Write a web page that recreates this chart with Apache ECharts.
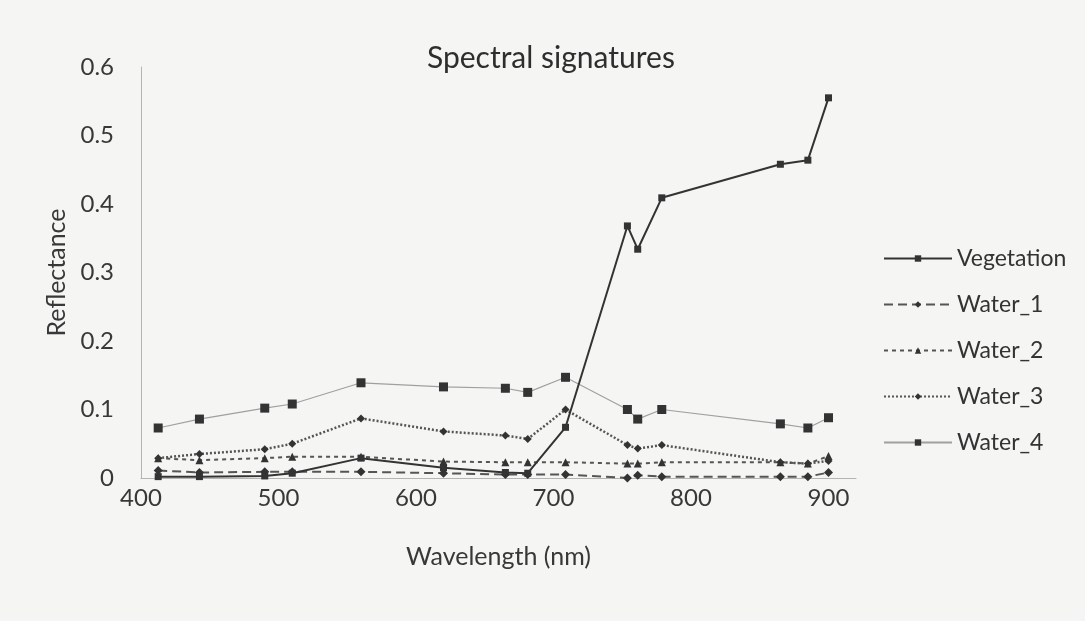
<!DOCTYPE html>
<html>
<head>
<meta charset="utf-8">
<title>Spectral signatures</title>
<script src="https://cdn.jsdelivr.net/npm/echarts@6/dist/echarts.min.js"></script>
<style>
  html, body { margin: 0; padding: 0; background: #f5f5f3; }
  #chart { width: 1085px; height: 621px; }
</style>
</head>
<body>
<div id="chart"></div>
<script>
// Band centres (nm)
const wavelengths = [412.5, 442.5, 490, 510, 560, 620, 665, 681.25, 708.75, 753.75, 761.25, 778.75, 865, 885, 900];

// Reflectance per band
const vegetation = [0.002, 0.002, 0.003, 0.007, 0.029, 0.015, 0.008, 0.007, 0.074, 0.368, 0.334, 0.409, 0.458, 0.464, 0.555];
const water1     = [0.011, 0.008, 0.009, 0.009, 0.009, 0.007, 0.005, 0.005, 0.005, 0.000, 0.004, 0.002, 0.002, 0.002, 0.008];
const water2     = [0.029, 0.026, 0.029, 0.031, 0.031, 0.024, 0.023, 0.023, 0.023, 0.021, 0.021, 0.023, 0.023, 0.021, 0.032];
const water3     = [0.029, 0.035, 0.042, 0.050, 0.087, 0.068, 0.062, 0.057, 0.100, 0.048, 0.043, 0.048, 0.023, 0.021, 0.025];
const water4     = [0.073, 0.086, 0.102, 0.108, 0.139, 0.133, 0.131, 0.125, 0.147, 0.100, 0.086, 0.100, 0.079, 0.073, 0.088];

const xTicks = { min: 400, max: 920, step: 100 };
const yTicks = { min: 0, max: 0.6, step: 0.1 };

const pairs = vals => wavelengths.map((w, i) => [w, vals[i]]);
const ink = '#333333';

function line(name, vals, opts) {
  return {
    name: name,
    type: 'line',
    data: pairs(vals),
    symbol: opts.symbol,
    symbolSize: opts.size,
    itemStyle: { color: opts.markerColor || ink },
    lineStyle: { color: opts.color, width: opts.width, type: opts.type },
    emphasis: { disabled: true },
    z: opts.z
  };
}

const chart = echarts.init(document.getElementById('chart'), null, { renderer: 'canvas' });
chart.setOption({
  backgroundColor: '#f5f5f3',
  animation: false,
  textStyle: { fontFamily: 'Lato, "Open Sans", sans-serif', color: '#383838' },
  title: {
    text: 'Spectral signatures',
    left: 422,
    top: 38,
    textStyle: { fontSize: 30, fontWeight: 'normal', color: '#2e2e2e' }
  },
  grid: { left: 141, right: 229, top: 67, bottom: 143, containLabel: false },
  legend: {
    orient: 'vertical',
    left: 878,
    top: 242,
    itemWidth: 68,
    itemHeight: 8,
    itemGap: 23,
    textStyle: { fontSize: 23, color: '#333', padding: [0, 0, 0, 0] },
    data: ['Vegetation', 'Water_1', 'Water_2', 'Water_3', 'Water_4']
  },
  xAxis: {
    type: 'value',
    min: xTicks.min,
    max: xTicks.max,
    interval: xTicks.step,
    name: 'Wavelength (nm)',
    nameLocation: 'middle',
    nameGap: 66,
    nameTextStyle: { fontSize: 25, color: '#383838' },
    axisLine: { show: true, lineStyle: { color: '#b4b4b4', width: 1 } },
    axisTick: { show: false },
    splitLine: { show: false },
    axisLabel: { fontSize: 24, margin: 8, color: '#383838', showMaxLabel: false }
  },
  yAxis: {
    type: 'value',
    min: yTicks.min,
    max: yTicks.max,
    interval: yTicks.step,
    name: 'Reflectance',
    nameLocation: 'middle',
    nameRotate: 90,
    nameGap: 69,
    nameTextStyle: { fontSize: 25, color: '#383838' },
    axisLine: { show: true, lineStyle: { color: '#b4b4b4', width: 1 } },
    axisTick: { show: false },
    splitLine: { show: false },
    axisLabel: { fontSize: 24, margin: 27, color: '#383838', formatter: v => String(+v.toFixed(1)) }
  },
  series: [
    line('Water_4', water4, { symbol: 'rect', size: 9, color: '#a0a0a0', width: 1.2, type: 'solid', z: 2 }),
    line('Water_3', water3, { symbol: 'diamond', size: 8, color: '#555', width: 2.5, type: [2, 2], z: 3 }),
    line('Water_2', water2, { symbol: 'triangle', size: 8, color: '#555', width: 2, type: [4, 4], z: 3 }),
    line('Water_1', water1, { symbol: 'diamond', size: 9, color: '#555', width: 2, type: [9, 5], z: 3 }),
    line('Vegetation', vegetation, { symbol: 'rect', size: 7, color: '#333', width: 2, type: 'solid', z: 4 })
  ]
});
</script>
</body>
</html>
